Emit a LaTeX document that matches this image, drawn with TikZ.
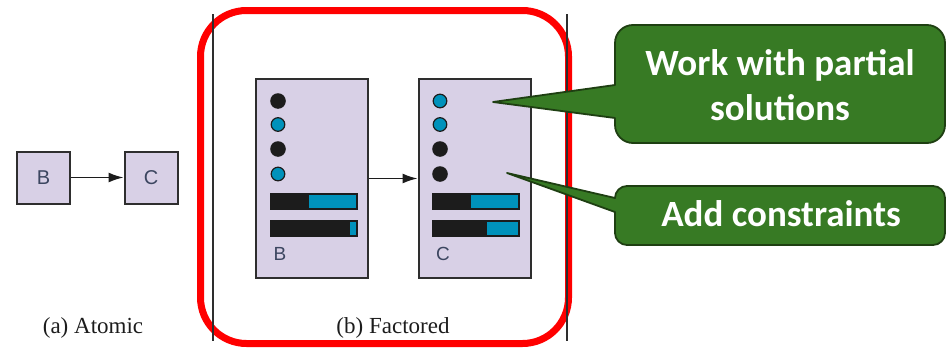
\documentclass[tikz,border=0pt]{standalone}
\usepackage{fontspec}
\setmainfont{Liberation Serif}
\newfontfamily\calloutfont{Carlito}
\newfontfamily\boxfont{Liberation Sans}
\usetikzlibrary{arrows.meta}

\definecolor{lav}{HTML}{D8D0E6}
\definecolor{edge}{HTML}{2E2E2E}
\definecolor{teal}{HTML}{0092BB}
\definecolor{ink}{HTML}{1C1C1C}
\definecolor{boxtxt}{HTML}{3C4660}
\definecolor{leaf}{HTML}{377A24}
\definecolor{leafedge}{HTML}{1E3F12}
\definecolor{hilite}{HTML}{FF0000}

\tikzset{
  statebox/.style={draw=edge, line width=2pt, fill=lav, inner sep=0pt},
  tinybox/.style={statebox, minimum width=53pt, minimum height=52pt,
    font=\boxfont\fontsize{20}{22}\selectfont, text=boxtxt},
  bigbox/.style={statebox, minimum width=112pt, minimum height=199pt},
  boxlabel/.style={font=\boxfont\fontsize{19}{21}\selectfont, text=boxtxt, inner sep=0pt},
  flow/.style={draw=ink, line width=1.5pt, -{Latex[length=15pt,width=10pt]}},
  caption/.style={font=\fontsize{23}{27}\selectfont, text=ink, inner sep=0pt},
  dotblack/.style={fill=ink},
  dotblue/.style={fill=teal, draw=ink, line width=1.2pt},
  barblack/.style={fill=ink, draw=ink, line width=1pt},
  barblue/.style={fill=teal},
  divider/.style={draw=edge, line width=1.6pt},
  callout/.style={fill=leaf, draw=leafedge, line width=1.8pt, line join=round},
  callouttext/.style={font=\calloutfont\bfseries\fontsize{37}{45}\selectfont,
    text=white, align=center, inner sep=0pt},
}

\begin{document}
\begin{tikzpicture}[x=1pt,y=-1pt]
\useasboundingbox (0,0) rectangle (947,348);

% ---- (a) atomic representation
\node[tinybox] (aB) at (43.5,177.5) {B};
\node[tinybox] (aC) at (151,177.5) {C};
\draw[flow] (aB) -- (aC);
\node[caption] (capA) at (93,328) {(a) Atomic};

% ---- highlight frame and dividers
\draw[hilite, line width=7pt, rounded corners=46pt] (200.5,10.5) rectangle (568.5,343.5);
\draw[divider] (213,14) -- (213,341);
\draw[divider] (567,14) -- (567,341);

% ---- (b) factored representation
\node[bigbox] (fB) at (312,178.5) {};
\node[bigbox] (fC) at (474.5,178.5) {};
\draw[flow] (fB) -- (fC);

% state B: variables and partial values
\fill[dotblack] (278,101) circle (7.8);
\filldraw[dotblue] (278,124.5) circle (6.8);
\fill[dotblack] (278,149) circle (7.8);
\filldraw[dotblue] (278,174) circle (6.8);
\filldraw[barblack] (270,193) rectangle (357,209);
\fill[barblue] (309,194.5) rectangle (355.5,207.5);
\filldraw[barblack] (270,220) rectangle (357,236);
\fill[barblue] (350,221.5) rectangle (355.5,234.5);
\node[boxlabel] (lB) at (280,254) {B};

% state C: more variables assigned
\filldraw[dotblue] (440,101) circle (6.8);
\filldraw[dotblue] (440,124.5) circle (6.8);
\fill[dotblack] (440,149) circle (7.8);
\fill[dotblack] (440,174) circle (7.8);
\filldraw[barblack] (432,193) rectangle (519,209);
\fill[barblue] (471,194.5) rectangle (517.5,207.5);
\filldraw[barblack] (432,220) rectangle (519,236);
\fill[barblue] (487,221.5) rectangle (517.5,234.5);
\node[boxlabel] (lC) at (443,254) {C};

\node[caption] (capB) at (393,328) {(b) Factored};

% ---- callouts
\coordinate (tipOne) at (493,102);
\coordinate (tipTwo) at (507,173);

\path[callout] (615,85) -- (615,43)
  arc[start angle=180, end angle=270, radius=18] -- (927,25)
  arc[start angle=270, end angle=360, radius=18] -- (945,125)
  arc[start angle=0, end angle=90, radius=18] -- (633,143)
  arc[start angle=90, end angle=180, radius=18] -- (615,118)
  -- (tipOne) -- cycle;
\node[callouttext] (noteOne) at (780,85) {Work with partial\\solutions};

\path[callout] (615,198)
  arc[start angle=180, end angle=270, radius=12] -- (933,186)
  arc[start angle=270, end angle=360, radius=12] -- (945,233)
  arc[start angle=0, end angle=90, radius=12] -- (627,245)
  arc[start angle=90, end angle=180, radius=12] -- (615,212)
  -- (tipTwo) -- cycle;
\node[callouttext] (noteTwo) at (781,214) {Add constraints};
\end{tikzpicture}
\end{document}
